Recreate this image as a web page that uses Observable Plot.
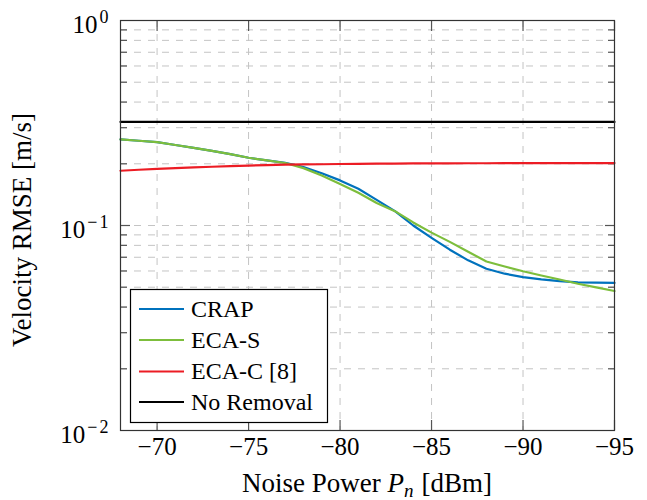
<!DOCTYPE html>
<html><head><meta charset="utf-8">
<script src="https://cdn.jsdelivr.net/npm/d3@7"></script>
<script src="https://cdn.jsdelivr.net/npm/@observablehq/plot@0.6"></script>
<style>
body{margin:0;background:#fff;}
svg text{font-family: "Liberation Serif", "Times New Roman", Times, serif;}
</style></head><body><div id="chart"></div>
<script>
// ---- data ----
const noisePower = [-68,-69,-70,-71,-72,-73,-74,-75,-76,-77,-78,-79,-80,-81,-82,-83,-84,-85,-86,-87,-88,-89,-90,-91,-92,-93,-94,-95];
const crap     = [0.263,0.259,0.255,0.247,0.239,0.231,0.223,0.214,0.208,0.2023,0.193,0.180,0.166,0.151,0.1334,0.1175,0.100,0.0871,0.0762,0.0676,0.0615,0.0582,0.0560,0.0546,0.0535,0.0528,0.0526,0.0525];
const ecaS     = [0.263,0.259,0.255,0.247,0.239,0.231,0.223,0.214,0.208,0.2018,0.1905,0.1754,0.1596,0.1445,0.1288,0.1175,0.1035,0.0923,0.0832,0.0745,0.0667,0.0631,0.0598,0.0570,0.0545,0.0520,0.0499,0.0479];
const ecaC     = [0.185,0.187,0.189,0.1905,0.192,0.1935,0.195,0.196,0.197,0.198,0.1985,0.199,0.1995,0.200,0.2005,0.2005,0.201,0.201,0.201,0.2012,0.2012,0.2013,0.2014,0.2014,0.2015,0.2015,0.2015,0.2015];
const noRemoval= [0.32,0.32,0.32,0.32,0.32,0.32,0.32,0.32,0.32,0.32,0.32,0.32,0.32,0.32,0.32,0.32,0.32,0.32,0.32,0.32,0.32,0.32,0.32,0.32,0.32,0.32,0.32,0.32];
const seriesNames  = ["CRAP","ECA-S","ECA-C [8]","No Removal"];
const seriesColors = ["#0072BD","#7DBE3C","#EC1C24","#000000"];
const xTicks = [-70,-75,-80,-85,-90,-95];
const yMajor = [0.01,0.1,1];
const yMinor = [0.02,0.03,0.04,0.05,0.06,0.07,0.08,0.09,0.2,0.3,0.4,0.5,0.6,0.7,0.8,0.9];

const rows = [];
[crap, ecaS, ecaC, noRemoval].forEach((vals, i) =>
  vals.forEach((v, j) => rows.push({x: noisePower[j], y: v, s: seriesNames[i]})));

const FONT = '"Liberation Serif", "Times New Roman", Times, serif';
const gridStyle = {stroke: "#c4c4c4", strokeWidth: 1, strokeDasharray: "7,7"};
const tickStyle = {stroke: "#555", strokeWidth: 1.2, fill: "none", label: null};

const plot = Plot.plot({
  width: 647, height: 500,
  marginLeft: 120, marginRight: 33, marginTop: 20, marginBottom: 70,
  style: {fontFamily: FONT, fontSize: "24px", background: "#fff", color: "#000"},
  x: {domain: [-68, -95], label: null},
  y: {type: "log", domain: [0.01, 1], label: null},
  color: {domain: seriesNames, range: seriesColors},
  marks: [
    Plot.ruleY(yMinor.concat([0.1]), gridStyle),
    Plot.ruleX(xTicks.slice(0, -1), gridStyle),
    Plot.axisX({ticks: xTicks, anchor: "bottom", tickSize: -10, ...tickStyle}),
    Plot.axisX({ticks: xTicks, anchor: "top", tickSize: -10, ...tickStyle}),
    Plot.axisY({ticks: yMinor, anchor: "left", tickSize: -7, ...tickStyle}),
    Plot.axisY({ticks: yMinor, anchor: "right", tickSize: -7, ...tickStyle}),
    Plot.axisY({ticks: [0.1], anchor: "left", tickSize: -10, ...tickStyle}),
    Plot.axisY({ticks: [0.1], anchor: "right", tickSize: -10, ...tickStyle}),
    Plot.axisX({ticks: xTicks, anchor: "bottom", tickSize: 0, tickPadding: 7, fontSize: 25,
      tickFormat: d => "\u2212" + Math.abs(d), label: null}),
    Plot.axisY({ticks: yMajor, anchor: "left", tickSize: 0, tickPadding: 12, fontSize: 25,
      tickFormat: d => String(Math.round(Math.log10(d))), label: null}),
    Plot.line(rows, {x: "x", y: "y", z: "s", stroke: "s", strokeWidth: 2.2}),
    Plot.frame({stroke: "#333", strokeWidth: 1.2})
  ]
});

document.getElementById("chart").appendChild(plot);
const svg = d3.select(plot);

// superscript exponents on y tick labels
svg.selectAll('g[aria-label="y-axis tick label"] text').each(function() {
  const e = this.textContent.replace("-", "").replace("\u2212", "");
  const neg = e !== "0";
  this.textContent = "";
  const t = d3.select(this).attr("dy", "0.16em");
  t.append("tspan").text("10");
  if (neg) {
    t.append("tspan").attr("dy", -10).attr("dx", 2).style("font-size", "18px").text("\u2212");
    t.append("tspan").attr("dx", 2).style("font-size", "18px").text(e);
  } else {
    t.append("tspan").attr("dy", -10).attr("dx", 2).style("font-size", "18px").text(e);
  }
});

// axis titles
const xl = svg.append("text").attr("x", 367).attr("y", 492).attr("text-anchor", "middle")
  .style("font-size", "27px").style("font-family", FONT).attr("fill", "#000");
xl.append("tspan").text("Noise Power ");
xl.append("tspan").attr("font-style", "italic").text("P");
xl.append("tspan").attr("font-style", "italic").style("font-size", "19px").attr("dy", 5).text("n");
xl.append("tspan").attr("dy", -5).attr("dx", 8).text("[dBm]");

svg.append("text").attr("transform", "translate(31,230) rotate(-90)").attr("text-anchor", "middle")
  .style("font-size", "27px").style("font-family", FONT).attr("fill", "#000")
  .text("Velocity RMSE [m/s]");

// legend
const lg = svg.append("g");
lg.append("rect").attr("x", 130.5).attr("y", 289.5).attr("width", 197).attr("height", 133)
  .attr("fill", "#fff").attr("stroke", "#000").attr("stroke-width", 1.2);
const ly = [309, 340, 371.5, 402];
seriesNames.forEach((n, i) => {
  lg.append("line").attr("x1", 139).attr("x2", 184).attr("y1", ly[i]).attr("y2", ly[i])
    .attr("stroke", seriesColors[i]).attr("stroke-width", 2.2);
  lg.append("text").attr("x", 191).attr("y", ly[i]).attr("dy", "0.33em").attr("text-anchor", "start")
    .style("font-size", "24px").style("font-family", FONT).attr("fill", "#000").text(n);
});
</script>
</body></html>
